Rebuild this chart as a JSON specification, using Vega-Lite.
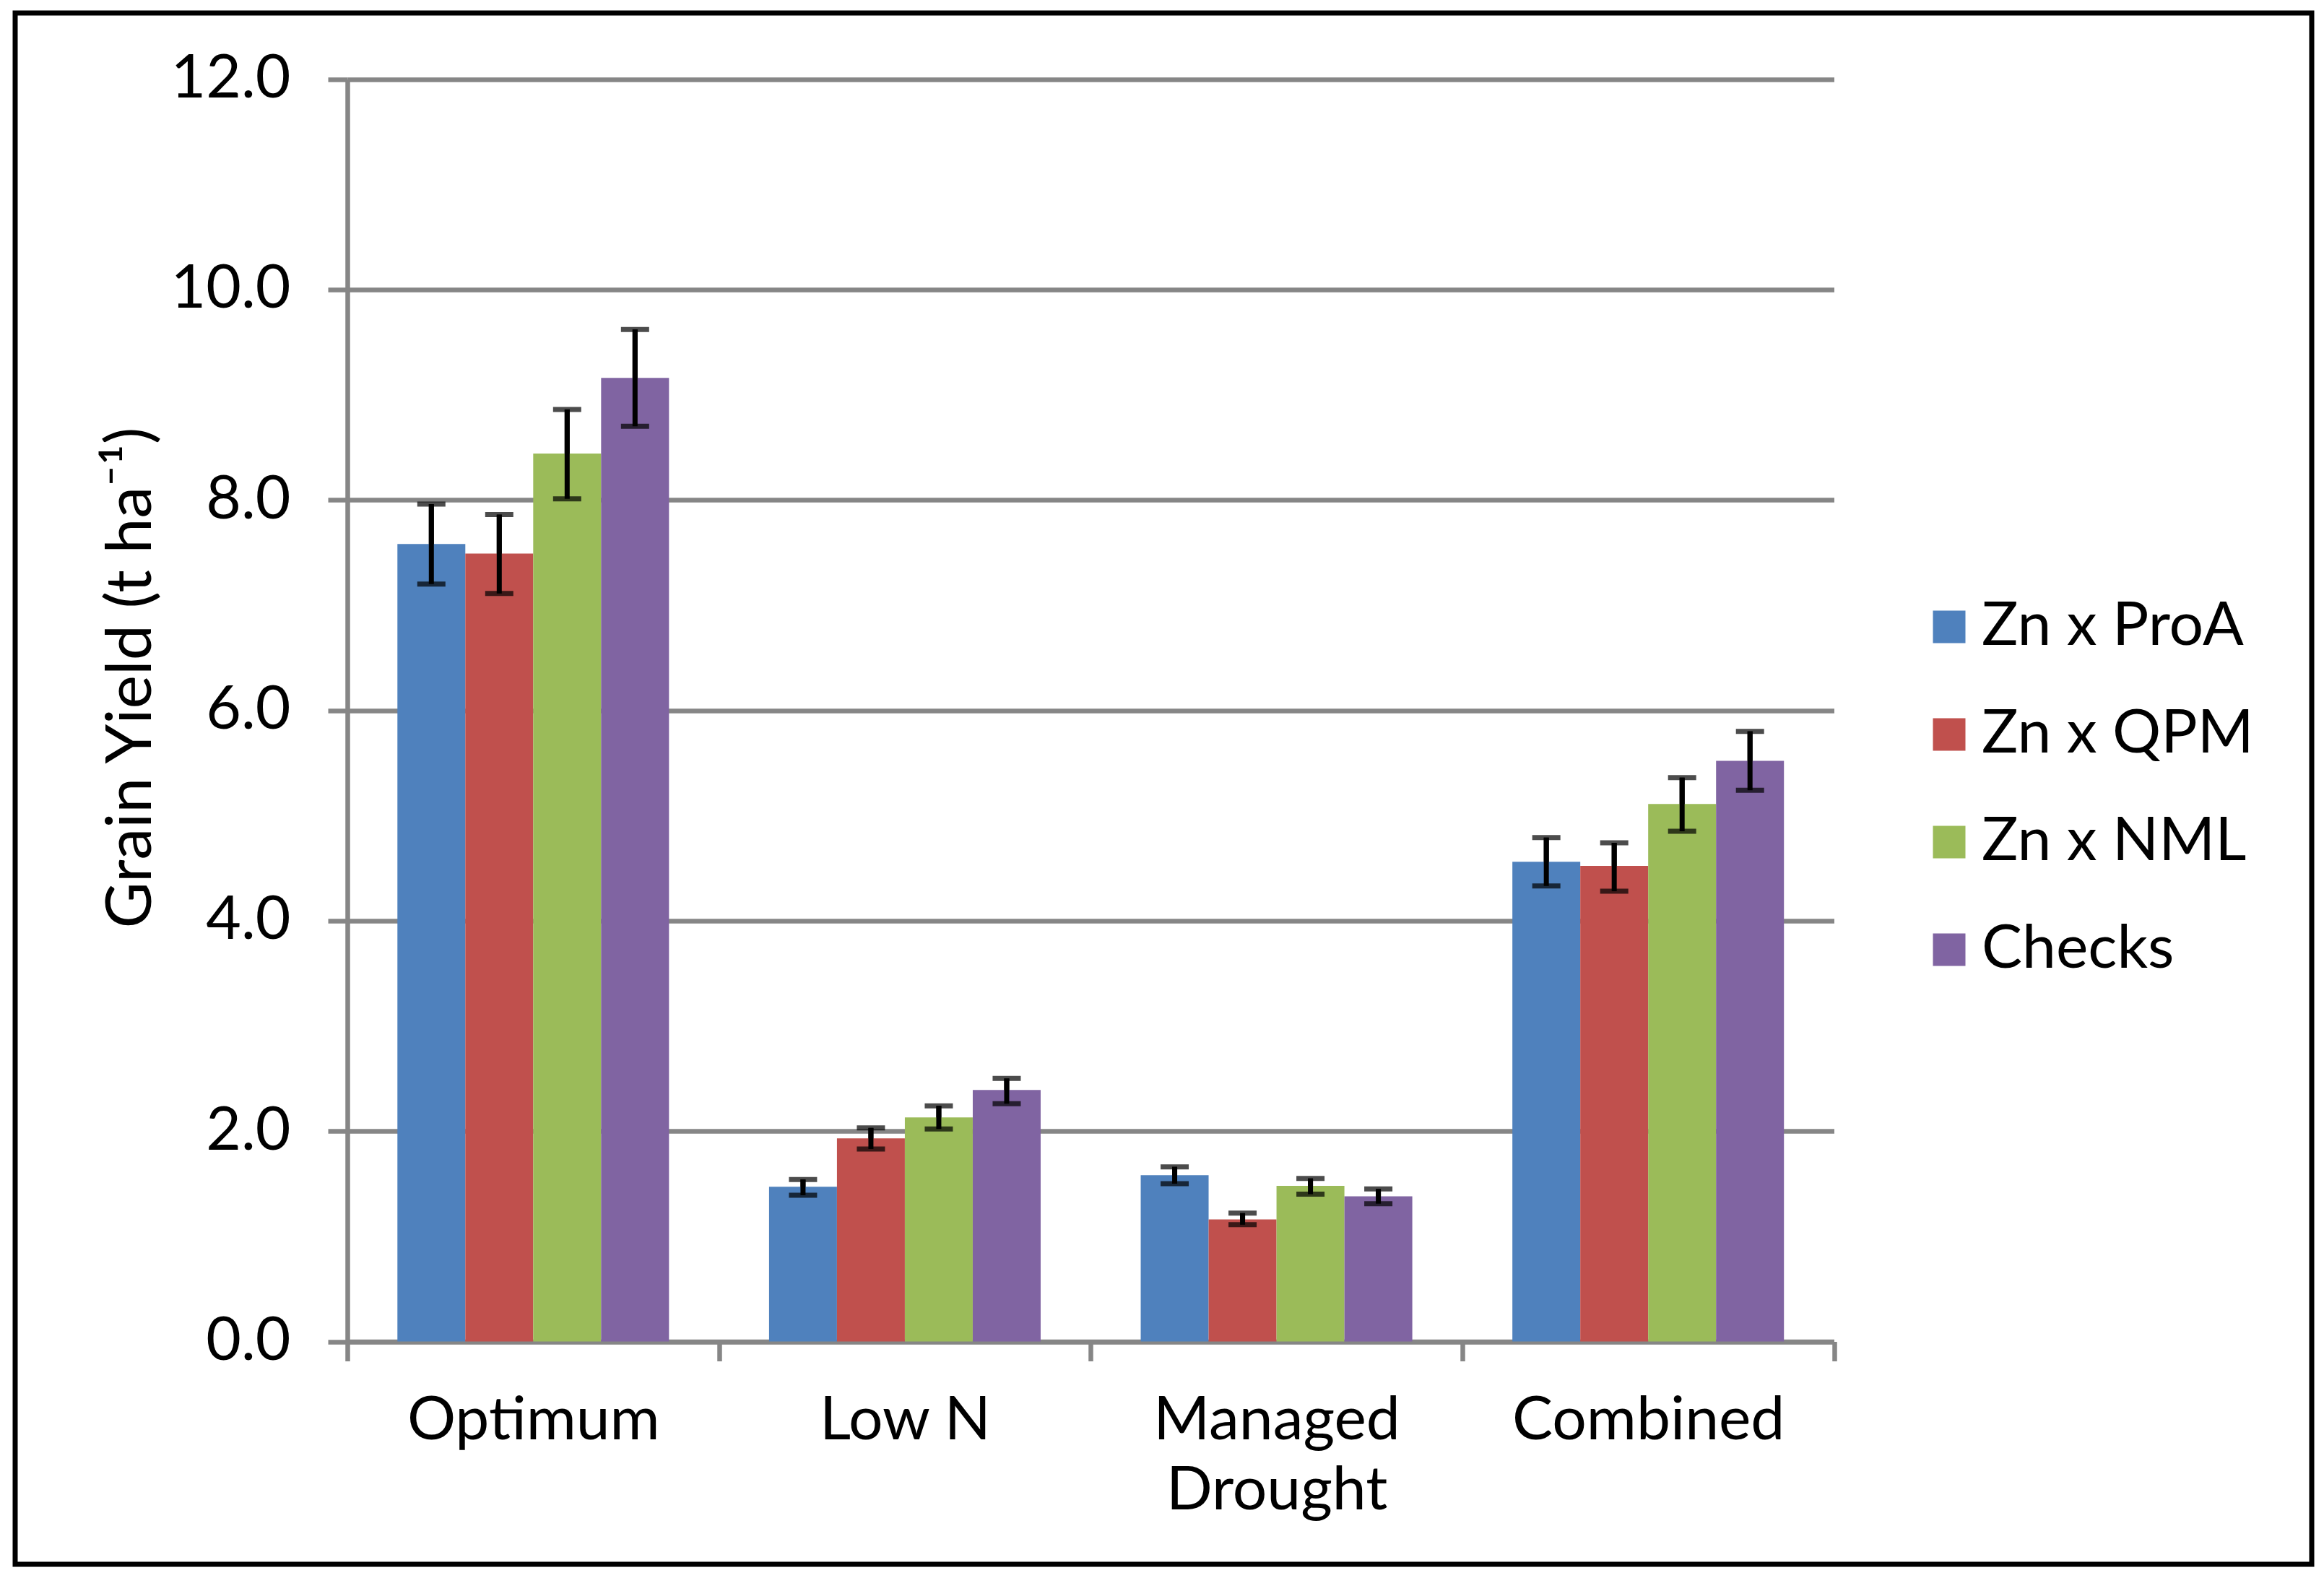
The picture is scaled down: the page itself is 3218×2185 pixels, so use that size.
{
  "$schema": "https://vega.github.io/schema/vega-lite/v6.json",
  "width": 3180,
  "height": 2148,
  "autosize": {"type": "none"},
  "padding": {"left": 21, "top": 18, "right": 17, "bottom": 19},
  "background": "white",
  "config": {
    "font": "Lato",
    "view": {"stroke": "black", "strokeWidth": 7, "fill": "white"},
    "axisY": {
      "tickSize": 27,
      "tickWidth": 6.5,
      "tickColor": "#868686",
      "domainColor": "#868686",
      "domainWidth": 6.5,
      "gridColor": "#868686",
      "gridWidth": 6.5,
      "labelFont": "Lato",
      "labelFontSize": 84,
      "labelColor": "black",
      "labelPadding": 52,
      "titleFont": "Lato",
      "titleFontSize": 88,
      "titleFontWeight": "normal",
      "titleColor": "black",
      "titlePadding": 55
    },
    "axisX": {
      "offset": -308.5,
      "tickBand": "extent",
      "tickSize": 27,
      "tickWidth": 6.5,
      "tickColor": "#868686",
      "domainColor": "#868686",
      "domainWidth": 6.5,
      "grid": false,
      "labelAngle": 0,
      "labelFont": "Lato",
      "labelFontSize": 84,
      "labelColor": "black",
      "labelPadding": 42,
      "labelLineHeight": 97,
      "labelLimit": 0
    },
    "legend": {
      "orient": "none",
      "legendX": 2636,
      "legendY": 808,
      "padding": 0,
      "symbolType": "square",
      "symbolSize": 2025,
      "symbolStrokeWidth": 0,
      "labelFont": "Lato",
      "labelFontSize": 84,
      "labelColor": "black",
      "labelOffset": 3,
      "labelLimit": 0,
      "rowPadding": 65
    }
  },
  "data": {
    "values": [
      {"env": "Optimum", "group": "Zn x ProA", "mean": 7.58, "lo": 7.20, "hi": 7.96},
      {"env": "Optimum", "group": "Zn x QPM", "mean": 7.49, "lo": 7.11, "hi": 7.86},
      {"env": "Optimum", "group": "Zn x NML", "mean": 8.44, "lo": 8.01, "hi": 8.86},
      {"env": "Optimum", "group": "Checks", "mean": 9.16, "lo": 8.70, "hi": 9.62},
      {"env": "Low N", "group": "Zn x ProA", "mean": 1.47, "lo": 1.39, "hi": 1.54},
      {"env": "Low N", "group": "Zn x QPM", "mean": 1.93, "lo": 1.83, "hi": 2.03},
      {"env": "Low N", "group": "Zn x NML", "mean": 2.13, "lo": 2.02, "hi": 2.24},
      {"env": "Low N", "group": "Checks", "mean": 2.39, "lo": 2.26, "hi": 2.50},
      {"env": "Managed Drought", "group": "Zn x ProA", "mean": 1.58, "lo": 1.50, "hi": 1.66},
      {"env": "Managed Drought", "group": "Zn x QPM", "mean": 1.16, "lo": 1.11, "hi": 1.22},
      {"env": "Managed Drought", "group": "Zn x NML", "mean": 1.48, "lo": 1.40, "hi": 1.55},
      {"env": "Managed Drought", "group": "Checks", "mean": 1.38, "lo": 1.31, "hi": 1.45},
      {"env": "Combined", "group": "Zn x ProA", "mean": 4.56, "lo": 4.33, "hi": 4.79},
      {"env": "Combined", "group": "Zn x QPM", "mean": 4.52, "lo": 4.28, "hi": 4.74},
      {"env": "Combined", "group": "Zn x NML", "mean": 5.11, "lo": 4.85, "hi": 5.36},
      {"env": "Combined", "group": "Checks", "mean": 5.52, "lo": 5.24, "hi": 5.80}
    ]
  },
  "encoding": {
    "x": {
      "field": "env",
      "type": "nominal",
      "sort": null,
      "title": null,
      "scale": {"range": [460, 2518.5], "paddingInner": 0, "paddingOuter": 0},
      "axis": {"labelExpr": "datum.value == 'Managed Drought' ? ['Managed', 'Drought'] : datum.label"}
    },
    "xOffset": {
      "field": "group",
      "type": "nominal",
      "sort": ["Zn x ProA", "Zn x QPM", "Zn x NML", "Checks"],
      "scale": {"paddingInner": 0, "paddingOuter": 0.737}
    }
  },
  "layer": [
    {
      "mark": {"type": "rule", "color": "black", "strokeWidth": 7},
      "encoding": {
        "y": {
          "field": "lo",
          "type": "quantitative",
          "title": null,
          "axis": {"orient": "left", "grid": true, "offset": 0, "labels": false, "ticks": false, "domain": false, "title": null, "values": [0, 2, 4, 6, 8, 10, 12], "zindex": 0}
        },
        "y2": {"field": "hi"}
      }
    },
    {
      "mark": {"type": "bar"},
      "encoding": {
        "y": {
          "field": "mean",
          "type": "quantitative",
          "title": "Grain Yield (t ha⁻¹)",
          "scale": {"domain": [0, 12], "range": [1839.5, 91.5], "nice": false, "zero": true},
          "axis": {"orient": "left", "values": [0, 2, 4, 6, 8, 10, 12], "format": ".1f", "grid": false, "offset": -460, "titleY": 920, "zindex": 1}
        },
        "color": {
          "field": "group",
          "type": "nominal",
          "title": null,
          "scale": {
            "domain": ["Zn x ProA", "Zn x QPM", "Zn x NML", "Checks"],
            "range": ["#4F81BD", "#C0504D", "#9BBB59", "#8064A2"]
          }
        }
      }
    },
    {
      "mark": {"type": "rule", "color": "black", "strokeWidth": 7},
      "encoding": {
        "y": {"field": "lo", "type": "quantitative", "axis": null},
        "y2": {"field": "hi"}
      }
    },
    {
      "mark": {"type": "tick", "color": "black", "thickness": 7, "size": 39, "orient": "horizontal"},
      "encoding": {
        "y": {"field": "lo", "type": "quantitative", "axis": null}
      }
    },
    {
      "mark": {"type": "tick", "color": "black", "thickness": 7, "size": 39, "orient": "horizontal"},
      "encoding": {
        "y": {"field": "hi", "type": "quantitative", "axis": null}
      }
    }
  ],
  "resolve": {"axis": {"y": "independent"}}
}
